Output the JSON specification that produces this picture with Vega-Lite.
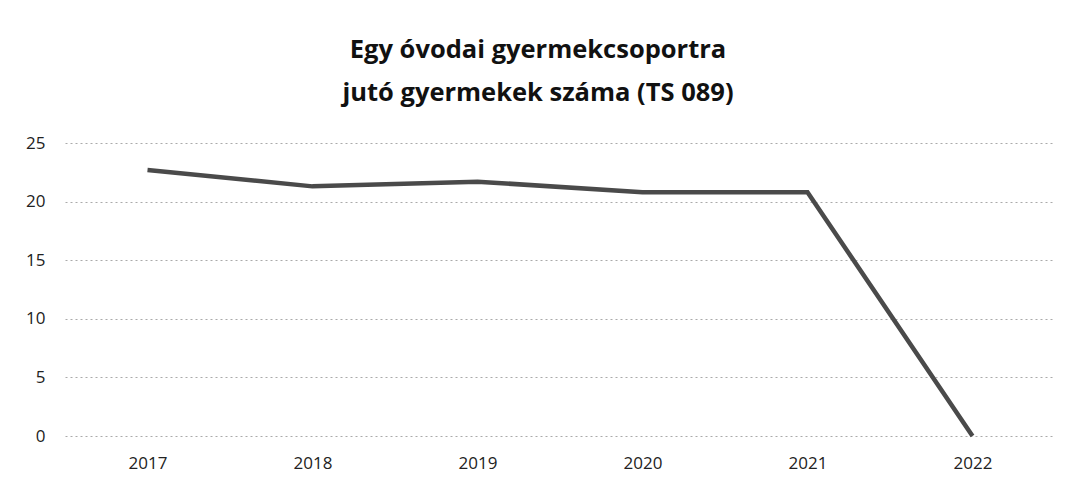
{
  "$schema": "https://vega.github.io/schema/vega-lite/v6.json",
  "width": 990,
  "height": 293,
  "autosize": "none",
  "padding": {"left": 65, "right": 15, "top": 143, "bottom": 60},
  "background": "white",
  "view": {"stroke": null},
  "title": {
    "text": ["Egy óvodai gyermekcsoportra", "jutó gyermekek száma (TS 089)"],
    "font": "Open Sans",
    "fontSize": 25.5,
    "fontWeight": "bold",
    "color": "#111",
    "lineHeight": 43,
    "offset": 28,
    "anchor": "middle",
    "dx": -22
  },
  "data": {
    "values": [
      {"year": "2017", "value": 22.7},
      {"year": "2018", "value": 21.3},
      {"year": "2019", "value": 21.7},
      {"year": "2020", "value": 20.8},
      {"year": "2021", "value": 20.8},
      {"year": "2022", "value": 0}
    ]
  },
  "mark": {"type": "line", "color": "#4a4a4a", "strokeWidth": 4.5},
  "encoding": {
    "x": {
      "field": "year",
      "type": "ordinal",
      "scale": {"paddingInner": 0, "paddingOuter": 0.5},
      "axis": {
        "title": null,
        "labelAngle": 0,
        "domain": false,
        "ticks": false,
        "grid": false,
        "labelFont": "Open Sans",
        "labelFontSize": 17,
        "labelColor": "#222",
        "labelPadding": 19
      }
    },
    "y": {
      "field": "value",
      "type": "quantitative",
      "scale": {"domain": [0, 25], "nice": false},
      "axis": {
        "title": null,
        "values": [0, 5, 10, 15, 20, 25],
        "domain": false,
        "ticks": false,
        "grid": true,
        "gridColor": "#aaa",
        "gridDash": [2, 3],
        "gridWidth": 1,
        "labelFont": "Open Sans",
        "labelFontSize": 17,
        "labelColor": "#222",
        "labelPadding": 20
      }
    }
  }
}
